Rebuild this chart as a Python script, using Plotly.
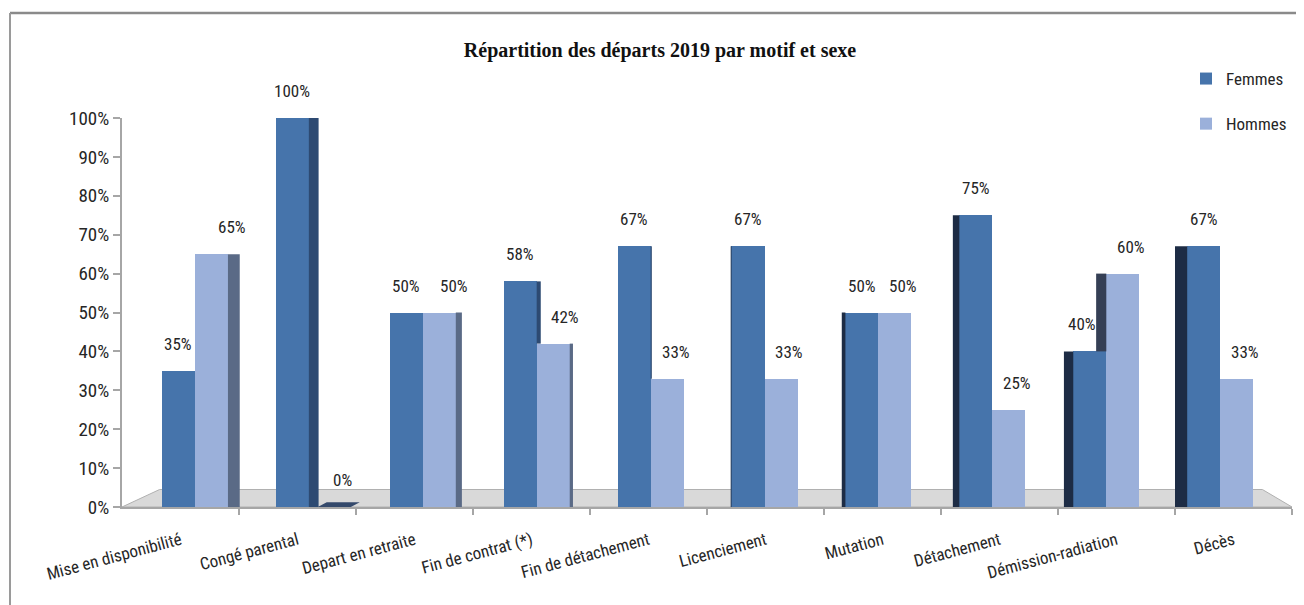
import plotly.graph_objects as go

categories = ["Mise en disponibilité", "Congé parental", "Depart en retraite",
              "Fin de contrat (*)", "Fin de détachement", "Licenciement",
              "Mutation", "Détachement", "Démission-radiation", "Décès"]
femmes = [35, 100, 50, 58, 67, 67, 50, 75, 40, 67]
hommes = [65, 0, 50, 42, 33, 33, 50, 25, 60, 33]
y_ticks = [0, 10, 20, 30, 40, 50, 60, 70, 80, 90, 100]
title_text = "Répartition des départs 2019 par motif et sexe"

# geometry / style (window pixel coords; page body has an 8px offset)
OFF = 8
WIN_W, WIN_H = 1304, 605
W, H = WIN_W - OFF, WIN_H - OFF
ML, MR, MT, MB = 122 - OFF, 12, 118 - OFF, 98
XR = [-0.64, 9.63]
BW = 0.29            # width of one bar (category units)
VC = 4.43            # vanishing centre (category units) for faux-3D side faces
K = 0.025            # depth factor
FRONT_X0, FRONT_STEP = 122, 117   # perspective front edge of the floor (window px)
C_F, C_H = "#4674ab", "#9bb0da"
C_F_R, C_H_R = "#2d4a72", "#5a6a86"
C_F_L, C_H_L = "#1d2c45", "#353f55"
FONT = "Liberation Sans Narrow, Roboto Condensed, Liberation Sans, sans-serif"

x_idx = list(range(len(categories)))
vals_f = [v / 100 for v in femmes]
vals_h = [v / 100 for v in hommes]

pw, ph = W - ML - MR, H - MT - MB
ppu = pw / (XR[1] - XR[0])
def px(x): return (x - OFF - ML) / pw
def py(y): return (WIN_H - MB - y) / ph
def pix2u(x): return XR[0] + (x - OFF - ML) / ppu

# front-edge label / tick positions (perspective) in data units
label_vals = [pix2u(FRONT_X0 + FRONT_STEP * (i + 0.5)) for i in x_idx]
sep_vals = [pix2u(FRONT_X0 + FRONT_STEP * (i + 1)) for i in x_idx]

fig = go.Figure()

# floor (below the bars)
fig.add_shape(type="path", xref="x", yref="y", layer="below",
              path=(f"M {XR[0]},0 L {XR[1]},0 L {XR[1] - 0.26},0.045 "
                    f"L {XR[0] + 0.33},0.045 Z"),
              fillcolor="#d9d9d9", line=dict(color="#b0b0b0", width=1))

fig.add_trace(go.Bar(x=[i - BW / 2 for i in x_idx], y=vals_f, width=BW, name="Femmes",
                     marker=dict(color=C_F, line=dict(width=0)), legendgroup="f"))
fig.add_trace(go.Bar(x=[i + BW / 2 for i in x_idx], y=vals_h, width=BW, name="Hommes",
                     marker=dict(color=C_H, line=dict(width=0)), legendgroup="h"))


def face(x0, d, y0, y1, color):
    fig.add_trace(go.Scatter(x=[x0, x0, x0 + d, x0 + d, x0], y=[y0, y1, y1, y0, y0],
                             mode="lines", fill="toself", fillcolor=color,
                             line=dict(width=0, color=color), hoverinfo="skip",
                             showlegend=False))


for i, f, h in zip(x_idx, vals_f, vals_h):
    right_edge = i + BW
    left_edge = i - BW
    if right_edge < VC:
        d = K * (VC - right_edge)
        if h > 0:
            face(right_edge, d, 0, h, C_H_R)
        else:
            # flat top of zero bar
            fig.add_trace(go.Scatter(x=[i + d, right_edge + d, right_edge + 2 * d, i + 2 * d, i + d],
                                     y=[0.0, 0.0, 0.012, 0.012, 0.0], mode="lines", fill="toself",
                                     fillcolor="#34496b", line=dict(width=0), hoverinfo="skip",
                                     showlegend=False))
        if f > h:
            d2 = K * (VC - i)
            face(i, d2, h, f, C_F_R)
    elif left_edge > VC:
        d = K * (left_edge - VC)
        face(left_edge, -d, 0, f, C_F_L)
        if h > f:
            d2 = K * (i - VC)
            face(i, -d2, f, h, C_H_L)

# value labels (kept inside the y range so none is hidden; offset in pixels)
for i, f, h in zip(x_idx, femmes, hommes):
    xf = i - BW / 2
    xh = i + BW / 2
    if h > f and (i - BW) > VC:
        xf -= 0.07
    for xc, v in ((xf, f), (xh + 0.07 + max(0.0, K * (VC - xh)), h)):
        fig.add_annotation(x=xc, y=v / 100, text=f"{v}%", showarrow=False, yshift=27,
                           font=dict(size=17, color="#262626", family=FONT))

# frame lines
fig.add_shape(type="line", xref="paper", yref="paper", x0=px(10), x1=px(WIN_W), y0=py(13), y1=py(13),
              line=dict(color="#8a8a8a", width=2.5))
fig.add_shape(type="line", xref="paper", yref="paper", x0=px(10), x1=px(10), y0=py(13), y1=py(WIN_H),
              line=dict(color="#9a9a9a", width=2))

fig.update_layout(
    width=W, height=H, margin=dict(l=ML, r=MR, t=MT, b=MB, autoexpand=False),
    paper_bgcolor="white", plot_bgcolor="white",
    font=dict(family=FONT, color="#262626"),
    title=dict(text=f"<b>{title_text}</b>", x=(660 - OFF) / W, xanchor="center",
               y=1 - (50 - OFF) / H, yanchor="middle", yref="container",
               font=dict(family="Liberation Serif, DejaVu Serif, serif", size=20, color="#111")),
    barmode="overlay", bargap=0,
    showlegend=True,
    legend=dict(x=px(1186), y=py(61), xanchor="left", yanchor="top", tracegroupgap=20,
                font=dict(size=17, family=FONT, color="#262626"), bgcolor="rgba(0,0,0,0)",
                itemwidth=30),
    xaxis=dict(range=XR, tickmode="array", tickvals=label_vals, ticktext=categories,
               tickangle=-15, ticks="", showgrid=False, zeroline=False, automargin=False,
               showline=True, linecolor="#a6a6a6", linewidth=2,
               tickfont=dict(size=17, family=FONT, color="#262626"),
               ticklabelstandoff=15,
               minor=dict(tickmode="array", tickvals=sep_vals, ticks="outside",
                          ticklen=6, tickcolor="#a6a6a6", tickwidth=1.5)),
    yaxis=dict(range=[0, 1.0], tickmode="array", tickvals=[t / 100 for t in y_ticks],
               ticktext=[f"{t}%" for t in y_ticks], ticks="outside", ticklen=7,
               tickcolor="#a6a6a6", tickwidth=1.5, showgrid=False, zeroline=False,
               automargin=False, showline=True, linecolor="#a6a6a6", linewidth=2,
               tickfont=dict(size=19, family=FONT, color="#262626")),
)

fig.write_html("out.html")
